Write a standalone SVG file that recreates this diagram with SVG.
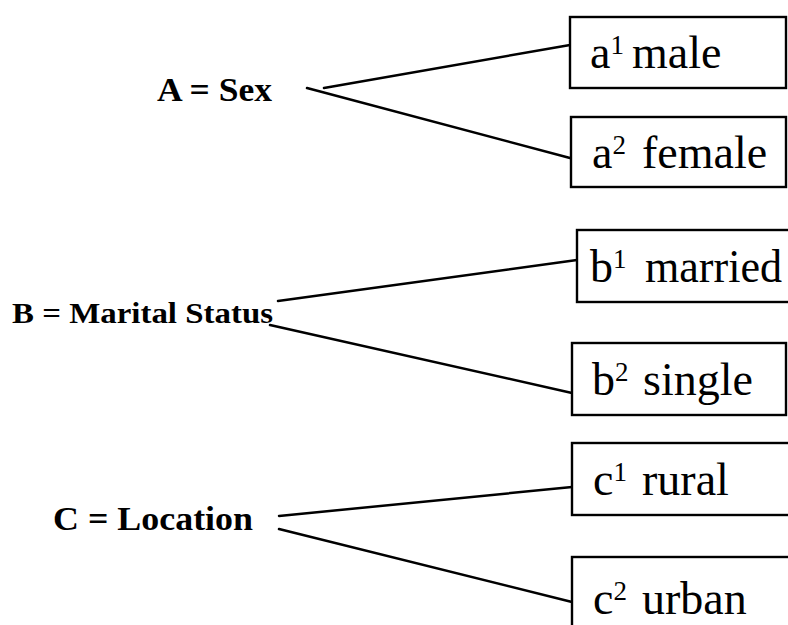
<svg xmlns="http://www.w3.org/2000/svg" width="788" height="625" viewBox="0 0 788 625">
<style>
.box{fill:#fff;stroke:#000;stroke-width:2.4}
.lbl{font-family:'Liberation Serif','DejaVu Serif',serif;font-weight:bold;fill:#000}
.val{font-family:'Liberation Serif','DejaVu Serif',serif;font-size:46px;fill:#000}
.sup{font-size:27px}
.conn line{stroke:#000;stroke-width:2.5;stroke-linecap:round}
</style>
<rect width="788" height="625" fill="#fff"/>
<g class="conn" id="connectors">
<line x1="324" y1="88" x2="570" y2="45"/>
<line x1="307" y1="88" x2="570" y2="158"/>
<line x1="278" y1="301" x2="577" y2="260"/>
<line x1="270" y1="325" x2="572" y2="393"/>
<line x1="279" y1="516" x2="572" y2="487"/>
<line x1="279" y1="529" x2="572" y2="602"/>
</g>
<g id="nodeA"><text class="lbl" x="157" y="101" font-size="34" textLength="115" lengthAdjust="spacingAndGlyphs">A = Sex</text></g>
<g id="nodeB"><text class="lbl" x="12" y="323" font-size="30" textLength="261" lengthAdjust="spacingAndGlyphs">B  = Marital  Status</text></g>
<g id="nodeC"><text class="lbl" x="53" y="530" font-size="34" textLength="200" lengthAdjust="spacingAndGlyphs">C = Location</text></g>
<g id="a1"><rect class="box" x="570" y="17" width="216" height="71"/><text class="val" x="590" y="68">a<tspan class="sup" dy="-14">1</tspan><tspan x="632" dy="14">male</tspan></text></g>
<g id="a2"><rect class="box" x="571" y="117" width="215" height="70"/><text class="val" x="592" y="168">a<tspan class="sup" dy="-14">2</tspan><tspan x="642" dy="14">female</tspan></text></g>
<g id="b1"><rect class="box" x="577" y="230" width="215" height="72"/><text class="val" x="590" y="282">b<tspan class="sup" dy="-14">1</tspan><tspan x="645" dy="14" textLength="137" lengthAdjust="spacingAndGlyphs">married</tspan></text></g>
<g id="b2"><rect class="box" x="572" y="343" width="214" height="72"/><text class="val" x="592" y="395">b<tspan class="sup" dy="-14">2</tspan><tspan x="643" dy="14">single</tspan></text></g>
<g id="c1"><rect class="box" x="572" y="443" width="220" height="72"/><text class="val" x="593" y="495">c<tspan class="sup" dy="-14">1</tspan><tspan x="642" dy="14">rural</tspan></text></g>
<g id="c2"><rect class="box" x="572" y="557" width="220" height="80"/><text class="val" x="593" y="614">c<tspan class="sup" dy="-14">2</tspan><tspan x="642" dy="14">urban</tspan></text></g>
</svg>
